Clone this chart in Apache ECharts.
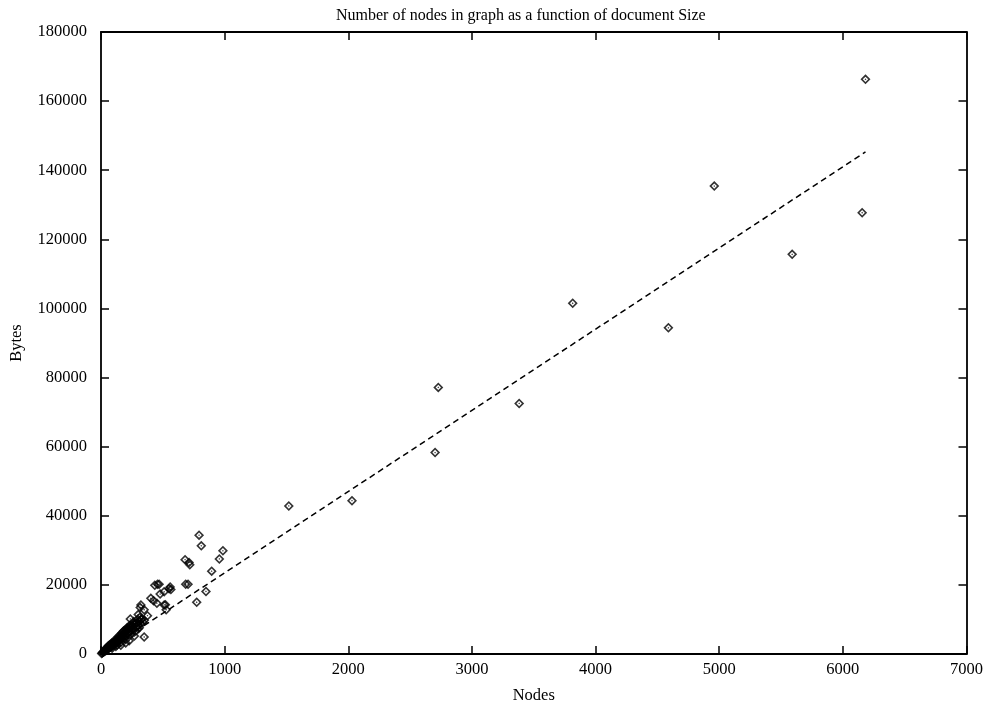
<!DOCTYPE html>
<html>
<head>
<meta charset="utf-8">
<script src="https://cdn.jsdelivr.net/npm/echarts@6/dist/echarts.min.js"></script>
<style>
html, body { margin: 0; padding: 0; background: #fff; }
#chart { width: 986px; height: 709px; }
</style>
</head>
<body>
<div id="chart"></div>
<script>
// nodes vs bytes
var nodes = [5, 10, 15, 20, 25, 30, 35, 40, 45, 50, 55, 60, 65, 70, 75, 80, 85, 90, 95, 100,
    105, 110, 115, 120, 125, 130, 135, 140, 145, 150, 155, 160, 165, 170, 175, 180, 185, 190, 195, 200,
    205, 210, 215, 220, 225, 230, 240, 250, 255, 260, 270, 280, 290, 300, 310, 320, 330, 349, 340, 350,
    60, 100, 140, 180, 220, 260, 120, 160, 200, 240, 280, 300, 228, 270, 200, 160, 130, 90, 250, 310,
    30, 45, 70, 85, 110, 150, 170, 190, 210, 235, 265, 285, 295, 315, 325,
    237, 301, 317, 323, 349, 376, 403, 425, 435, 452, 457, 470, 478, 511, 511, 521, 527, 551, 559, 565,
    680, 685, 704, 712, 718, 774, 793, 811, 849, 895, 957, 986,
    1519, 2030, 2702, 2728, 3382, 3815, 4589, 4960, 5590, 6156, 6183];
var bytes = [150, 300, 500, 600, 800, 700, 1100, 1000, 1400, 1300, 1700, 1500, 2000, 1800, 2300, 2100, 2600, 2200, 2900, 2500,
    3300, 2800, 3600, 3000, 3900, 3400, 4200, 3700, 4600, 4000, 4900, 4300, 5300, 4700, 5600, 5100, 6000, 4500, 6300, 5400,
    6700, 5800, 7100, 6200, 7400, 6600, 7800, 7000, 8200, 7400, 8700, 7800, 9000, 8300, 9500, 8800, 10100, 4920, 9200, 9800,
    2400, 3500, 5000, 6600, 7800, 9000, 2200, 3300, 4200, 5600, 6600, 7300, 3800, 5200, 3200, 2500, 2600, 1700, 6100, 7600,
    1200, 1800, 2700, 3100, 4000, 5400, 6100, 6900, 7500, 8300, 9400, 8900, 10000, 10600, 9900,
    10150, 11400, 13450, 14200, 12800, 11090, 16100, 15440, 19900, 14700, 20190, 20190, 17350, 18000, 14200, 14220, 12800, 18870, 19420, 18670,
    27300, 20190, 20200, 26500, 25800, 14980, 34400, 31300, 18100, 23970, 27500, 29860,
    42850, 44360, 58300, 77150, 72500, 101500, 94400, 135400, 115650, 127700, 166300];
var fitNodes = [10, 6183];
var fitBytes = [240, 145300];
var xTicks = [0, 1000, 2000, 3000, 4000, 5000, 6000, 7000];
var yTicks = [0, 20000, 40000, 60000, 80000, 100000, 120000, 140000, 160000, 180000];

var pts = [];
for (var i = 0; i < nodes.length; i++) {
    pts.push([nodes[i], bytes[i]]);
}
var fit = [];
for (var j = 0; j < fitNodes.length; j++) {
    fit.push([fitNodes[j], fitBytes[j]]);
}

var FONT = 'Liberation Serif';
var frame = { show: true, onZero: false, lineStyle: { color: '#000', width: 1.8 } };
var ticks = { show: true, inside: true, length: 8, lineStyle: { color: '#000', width: 1.5 } };
var plain = function (v) { return String(v); };

// diamond ring with a dot in the middle
var diamond = 'path://M0,-5L5,0L0,5L-5,0Z M0,-2.7L-2.7,0L0,2.7L2.7,0Z M0,-0.9L0.9,0L0,0.9L-0.9,0Z';

var chart = echarts.init(document.getElementById('chart'));
var option = {
    backgroundColor: '#fff',
    animation: false,
    title: {
        text: 'Number of nodes in graph as a function of document Size',
        left: 331,
        top: 3,
        textStyle: { fontFamily: FONT, fontSize: 16, fontWeight: 'normal', color: '#000' }
    },
    grid: { left: 100, right: 18, top: 32, bottom: 44 },
    xAxis: [{
        type: 'value',
        min: 0, max: 7000, interval: 1000,
        name: 'Nodes',
        nameLocation: 'middle',
        nameGap: 33,
        nameTextStyle: { fontFamily: FONT, fontSize: 16.5, color: '#000' },
        axisLine: frame,
        axisTick: ticks,
        splitLine: { show: false },
        axisLabel: {
            margin: 7,
            fontFamily: FONT, fontSize: 16.5, color: '#000',
            customValues: xTicks,
            formatter: plain
        }
    }, {
        type: 'value',
        position: 'top',
        min: 0, max: 7000, interval: 1000,
        axisLine: frame,
        axisTick: ticks,
        axisLabel: { show: false },
        splitLine: { show: false }
    }],
    yAxis: [{
        type: 'value',
        min: 0, max: 180000, interval: 20000,
        name: 'Bytes',
        nameLocation: 'middle',
        nameGap: 76,
        nameTextStyle: { fontFamily: FONT, fontSize: 16.5, color: '#000' },
        axisLine: frame,
        axisTick: ticks,
        splitLine: { show: false },
        axisLabel: {
            margin: 14,
            fontFamily: FONT, fontSize: 16.5, color: '#000',
            customValues: yTicks,
            formatter: plain
        }
    }, {
        type: 'value',
        position: 'right',
        min: 0, max: 180000, interval: 20000,
        axisLine: frame,
        axisTick: ticks,
        axisLabel: { show: false },
        splitLine: { show: false }
    }],
    series: [{
        name: 'fit',
        type: 'line',
        data: fit,
        symbol: 'none',
        lineStyle: { color: '#000', width: 1.5, type: [6, 4] },
        z: 1
    }, {
        name: 'documents',
        type: 'scatter',
        data: pts,
        symbol: diamond,
        symbolSize: 10,
        itemStyle: { color: '#000' },
        z: 2
    }]
};
chart.setOption(option);
</script>
</body>
</html>
